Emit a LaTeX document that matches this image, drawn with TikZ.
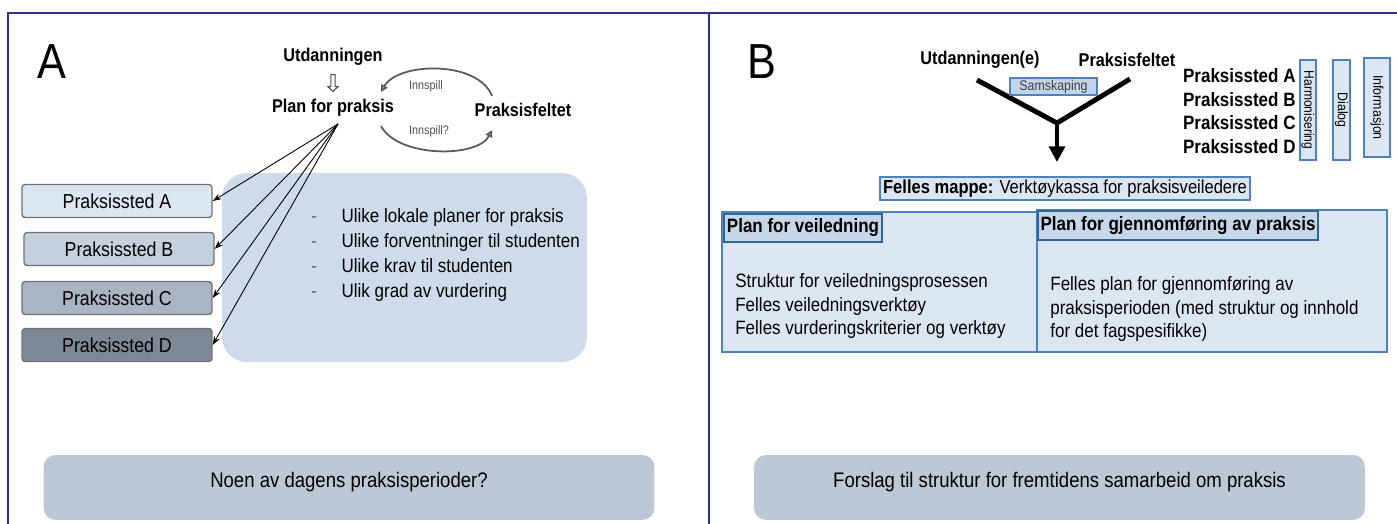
\documentclass[tikz,border=0pt]{standalone}
\usepackage{fontspec}
\setmainfont{Liberation Sans}[FakeStretch=0.88]
\usepackage{tikz}
\usetikzlibrary{arrows.meta,shapes.arrows}
\definecolor{rammeblaa}{RGB}{43,52,140}
\definecolor{stedA}{RGB}{220,230,242}
\definecolor{stedB}{RGB}{197,208,222}
\definecolor{stedC}{RGB}{170,180,194}
\definecolor{stedD}{RGB}{125,135,149}
\definecolor{flateblaa}{RGB}{205,219,235}
\definecolor{bunngraa}{RGB}{189,200,214}
\definecolor{lysblaa}{RGB}{220,230,242}
\definecolor{kantblaa}{RGB}{79,129,189}
\definecolor{mørkkant}{RGB}{50,100,150}

\begin{document}
\begin{tikzpicture}[x=0.02cm, y=-0.02cm,
        bigletter/.style={font=\fontsize{28}{30}\selectfont},
        toplabel/.style={font=\fontsize{10.5}{13}\selectfont\bfseries, inner sep=1pt},
        smalltext/.style={font=\fontsize{7}{8}\selectfont, text=black!70, inner sep=1pt},
        bodytext/.style={font=\fontsize{11}{13.4}\selectfont, align=left, inner sep=0pt},
        stedbox/.style={draw=black!55, line width=0.8pt, rounded corners=1.8pt,
            minimum width=3.8cm, minimum height=0.66cm, font=\fontsize{11.5}{13}\selectfont},
        bunnbox/.style={fill=bunngraa, rounded corners=0.24cm, minimum width=12.22cm,
            minimum height=1.3cm, font=\fontsize{12}{14}\selectfont},
        blaabox/.style={draw=kantblaa, fill=lysblaa, line width=1pt, inner sep=1pt},
        hodebox/.style={draw=mørkkant, fill=lysblaa!85!kantblaa, line width=1.2pt,
            font=\fontsize{11}{12}\selectfont\bfseries, inner sep=1pt},
        tilsted/.style={-{Stealth[length=5pt,width=3.5pt]}, line width=0.5pt},
        innspill/.style={-{Triangle[open,length=4pt,width=4pt]}, line width=1pt, black!65},
        yarm/.style={line width=2.8pt}]
        \useasboundingbox (0,0) rectangle (1397,524);
        %%Frame
        \draw[rammeblaa, line width=1.7pt] (8,524) -- (8,13) -- (1397,13);
        \draw[rammeblaa, line width=1.5pt] (709,13) -- (709,524);
        %%Panel A
        \node[bigletter] (lblA) at (52,62) {A};
        \node[toplabel] (utd) at (333,57) {Utdanningen};
        \node[single arrow, draw=black!70, line width=0.6pt, shape border rotate=270,
            minimum height=0.34cm, minimum width=0.2cm, single arrow head extend=1.2pt,
            inner sep=0.6pt] (pil) at (333,82) {};
        \node[toplabel] (plan) at (333,108) {Plan for praksis};
        \node[toplabel] (felt) at (523,110) {Praksisfeltet};
        \coordinate (ia) at (492,96);
        \coordinate (ib) at (381,92);
        \coordinate (ic) at (381,126);
        \coordinate (id) at (492,130);
        \draw[innspill] (ia) .. controls (478,60) and (398,62) .. (ib);
        \draw[innspill] (ic) .. controls (398,158) and (478,158) .. (id);
        \node[smalltext] (inn1) at (426,86) {Innspill};
        \node[smalltext] (inn2) at (429,131) {Innspill?};
        %%Field and boxes
        \node[fill=flateblaa, rounded corners=0.5cm, minimum width=7.3cm, minimum height=3.78cm] (liste) at (404.5,267.5) {};
        \node[stedbox, fill=stedA] (sA) at (117,201) {Praksissted A};
        \node[stedbox, fill=stedB] (sB) at (119,249) {Praksissted B};
        \node[stedbox, fill=stedC] (sC) at (117,298) {Praksissted C};
        \node[stedbox, fill=stedD] (sD) at (117,345) {Praksissted D};
        \coordinate (kilde) at (338,124);
        \draw[tilsted] (kilde) -- (sA.east);
        \draw[tilsted] (kilde) -- (sB.east);
        \draw[tilsted] (kilde) -- (sC.east);
        \draw[tilsted] (kilde) -- (sD.east);
        \node[bodytext, font=\fontsize{11}{14.2}\selectfont, anchor=north west] (punkter) at (311,205) {%
            \begin{tabular}{@{}l@{\hspace{14pt}}l@{}}
            \textcolor{black!60}{-} & Ulike lokale planer for praksis\\
            \textcolor{black!60}{-} & Ulike forventninger til  studenten\\
            \textcolor{black!60}{-} & Ulike krav til  studenten\\
            \textcolor{black!60}{-} & Ulik grad av vurdering
            \end{tabular}};
        \node[bunnbox, text height=0pt, text depth=-7pt] (bunnA) at (349,487.5) {Noen av dagens praksisperioder?};
        %%Panel B
        \node[bigletter] (lblB) at (762,62) {B};
        \node[toplabel] (utdB) at (980,60) {Utdanningen(e)};
        \node[toplabel] (feltB) at (1127,60) {Praksisfeltet};
        \node[blaabox, minimum width=7.4cm, minimum height=0.46cm, font=\fontsize{10.7}{12}\selectfont] (mappe) at (1065,188.5)
            {\textbf{Felles mappe:} Verktøykassa for praksisveiledere};
        \coordinate (yl) at (977,80);
        \coordinate (yr) at (1130,79);
        \coordinate (yj) at (1057,123);
        \draw[yarm] (yl) -- (yj) -- (yr);
        \draw[yarm, -{Triangle[length=9pt,width=9pt]}, shorten >=8pt] (yj) -- (mappe.north -| yj);
        \node[blaabox, fill=lysblaa!82!kantblaa, minimum width=1.74cm, minimum height=0.34cm,
            font=\fontsize{8}{9}\selectfont, text=black!75] (samsk) at (1053.5,86.5) {Samskaping};
        \node[toplabel, anchor=north west, align=left, font=\fontsize{11}{13.6}\selectfont\bfseries] (steder) at (1181,66)
            {Praksissted A\\Praksissted B\\Praksissted C\\Praksissted D};
        \node[blaabox, rotate=-90, minimum width=2cm, minimum height=0.32cm,
            font=\fontsize{7.8}{9}\selectfont] (harm) at (1308,110) {Harmonisering};
        \node[blaabox, rotate=-90, minimum width=2cm, minimum height=0.34cm,
            font=\fontsize{8}{9}\selectfont] (dial) at (1341.5,110) {Dialog};
        \node[blaabox, rotate=-90, minimum width=1.98cm, minimum height=0.52cm,
            font=\fontsize{8}{9}\selectfont] (info) at (1377,107.5) {Informasjon};
        %%Plans
        \node[blaabox, line width=1.2pt, minimum width=6.3cm, minimum height=2.8cm] (veil) at (879.5,282) {};
        \node[blaabox, line width=1.2pt, minimum width=7cm, minimum height=2.84cm] (gjen) at (1212,281) {};
        \node[hodebox, minimum width=3.16cm, minimum height=0.56cm] (veilhode) at (803,228) {Plan for veiledning};
        \node[hodebox, minimum width=5.6cm, minimum height=0.58cm] (gjenhode) at (1178,225.5) {Plan for gjennomføring av praksis};
        \node[bodytext, anchor=west] (veiltekst) at (735,306)
            {Struktur for veiledningsprosessen\\Felles veiledningsverktøy\\Felles vurderingskriterier og verktøy};
        \node[bodytext, anchor=west] (gjentekst) at (1050,309)
            {Felles plan for gjennomføring av\\praksisperioden (med struktur og innhold\\for det fagspesifikke)};
        \node[bunnbox, text height=0pt, text depth=-7pt] (bunnB) at (1059.5,487.5) {Forslag til struktur for fremtidens samarbeid om praksis};
\end{tikzpicture}
\end{document}
